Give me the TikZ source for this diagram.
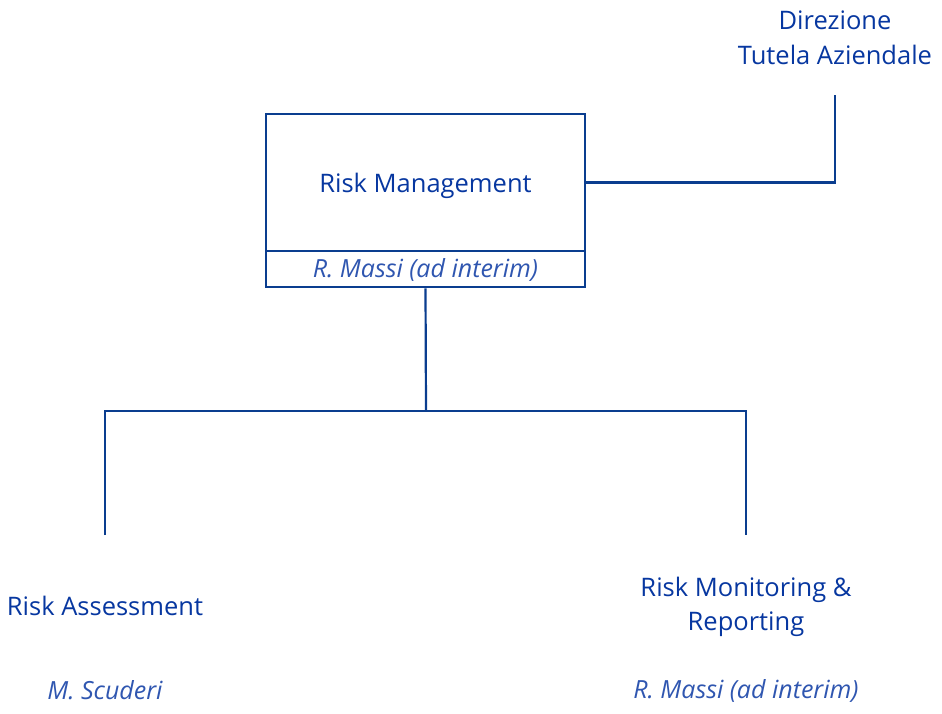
\documentclass[tikz,border=0pt]{standalone}
\usepackage{fontspec}
\setmainfont{Open Sans}
\definecolor{lineblue}{HTML}{0A3D8F}
\definecolor{textblue}{HTML}{0737A0}
\definecolor{nameblue}{HTML}{2F56B0}
\begin{document}
\begin{tikzpicture}[x=1pt,y=-1pt,
  lbl/.style={text=textblue,font=\fontsize{25.5}{34.5}\selectfont,align=center,inner sep=0pt},
  nm/.style={text=nameblue,font=\fontsize{25}{30}\selectfont\itshape,inner sep=0pt},
  conn/.style={draw=lineblue,line width=2.2pt},
  boxline/.style={draw=lineblue,line width=2.8pt}]
\useasboundingbox (0,0) rectangle (942,714);
\node[boxline,minimum width=319pt,minimum height=137pt,inner sep=0pt] (rm) at (425.5,182.5) {};
\node[lbl] (rmt) at (425.5,185.5) {Risk Management};
\node[boxline,minimum width=319pt,minimum height=36pt,inner sep=0pt] (rmn) at (425.5,269) {};
\node[nm] (rmnt) at (425.5,269.5) {R. Massi (ad interim)};
\node[lbl] (dta) at (835,38) {Direzione\\Tutela Aziendale};
\coordinate (dtab) at (835,95);
\coordinate (br) at (426,411);
\coordinate (ra) at (105,535);
\coordinate (rmr) at (746,535);
\node[lbl] (rat) at (105,606) {Risk Assessment};
\node[nm] (ran) at (105,690.5) {M. Scuderi};
\node[lbl] (rmrt) at (746,607) {Risk Monitoring \&\\Reporting};
\node[nm] (rmrn) at (746,690.5) {R. Massi (ad interim)};
\draw[conn] (rm.east) -| (dtab);
\draw[conn] (rmn.south) -- (br);
\draw[conn] (ra) |- (br) -| (rmr);
\end{tikzpicture}
\end{document}
